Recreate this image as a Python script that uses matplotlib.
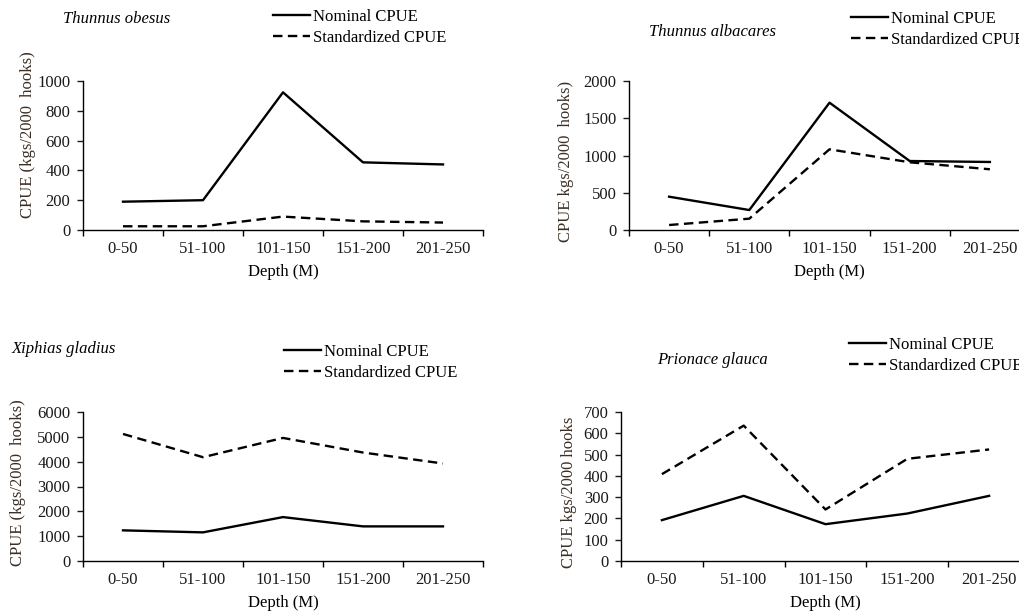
import matplotlib
matplotlib.use("Agg")
import matplotlib.pyplot as plt
from matplotlib.ticker import FixedLocator, NullFormatter

plt.rcParams['font.family'] = ['Liberation Serif', 'DejaVu Serif']

# profundidades (categorias do eixo x)
depths = ['0-50', '51-100', '101-150', '151-200', '201-250']

# Thunnus obesus
obesus_nominal = [190, 200, 924, 454, 440]
obesus_std = [25, 25, 90, 58, 50]

# Thunnus albacares
albacares_nominal = [447, 268, 1709, 926, 913]
albacares_std = [67, 152, 1083, 909, 815]

# Xiphias gladius
gladius_nominal = [1234, 1153, 1768, 1394, 1394]
gladius_std = [5116, 4180, 4956, 4368, 3926]

# Prionace glauca
glauca_nominal = [192, 306, 173, 223, 306]
glauca_std = [408, 636, 242, 480, 524]

W, H = 1020, 615
fig = plt.figure(figsize=(W / 100, H / 100), dpi=100)

label_color = '#3b2f25'


def fx(px):
    return px / W


def fy(py):
    return 1 - py / H


def painel(rect, nominal, std, ymax, ystep, titulo, tpos, ylabel, ypos, legpos):
    left, right, top, bottom = rect
    ax = fig.add_axes([fx(left), fy(bottom), fx(right - left), fy(top) - fy(bottom)])
    x = list(range(len(depths)))
    ax.plot(x, nominal, color='black', lw=1.7, label='Nominal CPUE')
    ax.plot(x, std, color='black', lw=1.7, dashes=(4, 2.3), label='Standardized CPUE')

    ax.set_xlim(-0.5, len(depths) - 0.5)
    ax.set_ylim(0, ymax)
    ax.set_yticks(range(0, ymax + 1, ystep))
    ax.set_xticks(x)
    ax.set_xticklabels(depths)
    ax.xaxis.set_minor_locator(FixedLocator([i - 0.5 for i in range(len(depths) + 1)]))
    ax.xaxis.set_minor_formatter(NullFormatter())
    ax.tick_params(axis='x', which='major', length=0, pad=8, labelsize=12, colors='#1a1a1a')
    ax.tick_params(axis='x', which='minor', length=4, width=1, direction='out')
    ax.tick_params(axis='y', length=4, width=1, pad=5, labelsize=12, colors='#1a1a1a')
    for s in ['top', 'right']:
        ax.spines[s].set_visible(False)
    for s in ['left', 'bottom']:
        ax.spines[s].set_linewidth(1)
        ax.spines[s].set_color('black')

    ax.set_xlabel('Depth (M)', fontsize=12, labelpad=5)

    fig.text(fx(tpos[0]), fy(tpos[1]), titulo, style='italic', fontsize=12,
             ha='left', va='center')
    fig.text(fx(ypos[0]), fy(ypos[1]), ylabel, rotation=90, fontsize=12,
             ha='center', va='center', color=label_color)
    ax.legend(loc='upper left', bbox_to_anchor=(fx(legpos[0]), fy(legpos[1])),
              bbox_transform=fig.transFigure, frameon=False, fontsize=12,
              borderpad=0, borderaxespad=0, handlelength=2.2, handletextpad=0.2,
              labelspacing=0.3)
    return ax


painel((83, 483, 81, 230), obesus_nominal, obesus_std, 1000, 200,
       'Thunnus obesus', (63, 19), 'CPUE (kgs/2000  hooks)', (28, 135), (273, 9))
painel((629, 1030, 81, 230), albacares_nominal, albacares_std, 2000, 500,
       'Thunnus albacares', (649, 32), 'CPUE kgs/2000  hooks)', (566, 161), (851, 11))
painel((83, 483, 412, 561), gladius_nominal, gladius_std, 6000, 1000,
       'Xiphias gladius', (12, 349), 'CPUE (kgs/2000  hooks)', (18, 483), (284, 344))
painel((621, 1030, 412, 561), glauca_nominal, glauca_std, 700, 100,
       'Prionace glauca', (657, 360), 'CPUE kgs/2000 hooks', (569, 492), (849, 337))

fig.savefig('out.png', dpi=100)
